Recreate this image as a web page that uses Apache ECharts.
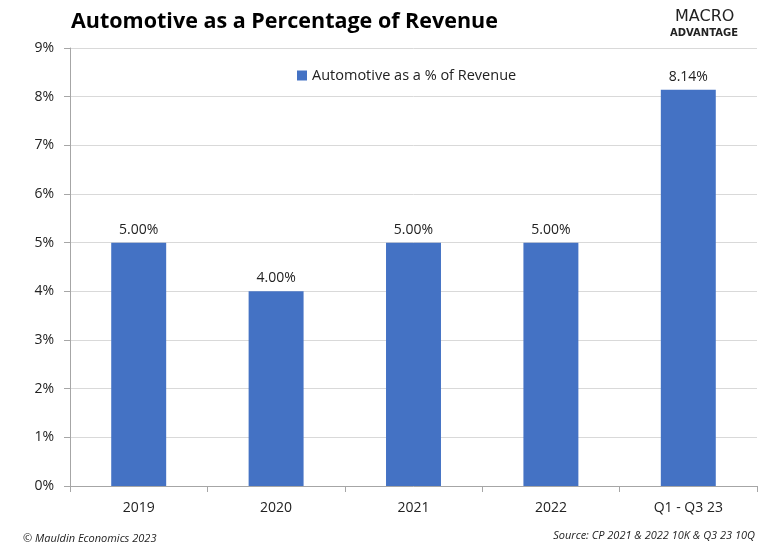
<!DOCTYPE html>
<html><head><meta charset="utf-8">
<script src="https://cdn.jsdelivr.net/npm/echarts@6/dist/echarts.min.js"></script>
<style>html,body{margin:0;padding:0;background:#fff}#c{width:777px;height:544px}</style>
</head><body><div id="c"></div>
<script>
const categories = ['2019', '2020', '2021', '2022', 'Q1 - Q3 23'];
const values = [5.00, 4.00, 5.00, 5.00, 8.14];
const seriesName = 'Automotive as a % of Revenue';
const yTicks = [0, 1, 2, 3, 4, 5, 6, 7, 8, 9];

const chart = echarts.init(document.getElementById('c'), null, {renderer: 'canvas'});
const font = "'Open Sans', 'Noto Sans', sans-serif";
const logoFont = "'DejaVu Sans', 'Noto Sans', sans-serif";
chart.setOption({
  animation: false,
  backgroundColor: '#fff',
  title: [
    {text: 'Automotive as a Percentage of Revenue', left: 66, top: 6,
     textStyle: {fontFamily: font, fontWeight: 'bold', fontSize: 21.5, color: '#000'}},
    {text: '© Mauldin Economics 2023', left: 18, top: 528,
     textStyle: {fontFamily: font, fontStyle: 'italic', fontWeight: 'normal', fontSize: 11, color: '#222'}},
    {text: 'Source: CP 2021 & 2022 10K & Q3 23 10Q', right: 17, top: 525,
     textStyle: {fontFamily: font, fontStyle: 'italic', fontWeight: 'normal', fontSize: 11, color: '#222'}}
  ],
  graphic: [
    {type: 'text', left: 675, top: 9,
     style: {text: 'MACRO', fontFamily: logoFont, fontSize: 16, fill: '#222'}},
    {type: 'text', left: 670, top: 28,
     style: {text: 'ADVANTAGE', fontFamily: logoFont, fontSize: 10, fontWeight: 'bold', fill: '#222'}}
  ],
  legend: {
    top: 63, left: 292, itemWidth: 10, itemHeight: 10, itemGap: 6,
    icon: 'rect',
    textStyle: {fontFamily: font, fontSize: 14.5, color: '#222'},
    data: [seriesName]
  },
  grid: {left: 70, right: 20, top: 48, bottom: 58, containLabel: false},
  xAxis: {
    type: 'category', data: categories,
    axisLine: {lineStyle: {color: '#a6a6a6'}},
    axisTick: {show: true, alignWithLabel: false, length: 6, lineStyle: {color: '#a6a6a6'}},
    axisLabel: {fontFamily: font, fontSize: 14, color: '#222', margin: 15}
  },
  yAxis: {
    type: 'value', min: yTicks[0], max: yTicks[yTicks.length - 1], interval: 1,
    axisLine: {show: true, lineStyle: {color: '#a6a6a6'}},
    axisTick: {show: true, length: 6, lineStyle: {color: '#a6a6a6'}},
    splitLine: {lineStyle: {color: '#d9d9d9'}},
    axisLabel: {fontFamily: font, fontSize: 14, color: '#222', margin: 16, formatter: v => v + '%'}
  },
  series: [{
    name: seriesName, type: 'bar', data: values,
    barCategoryGap: '60%',
    itemStyle: {color: '#4472C4'},
    label: {show: true, position: 'top', distance: 6, fontFamily: font, fontSize: 14, color: '#222',
            formatter: p => p.value.toFixed(2) + '%'}
  }]
});
</script></body></html>
